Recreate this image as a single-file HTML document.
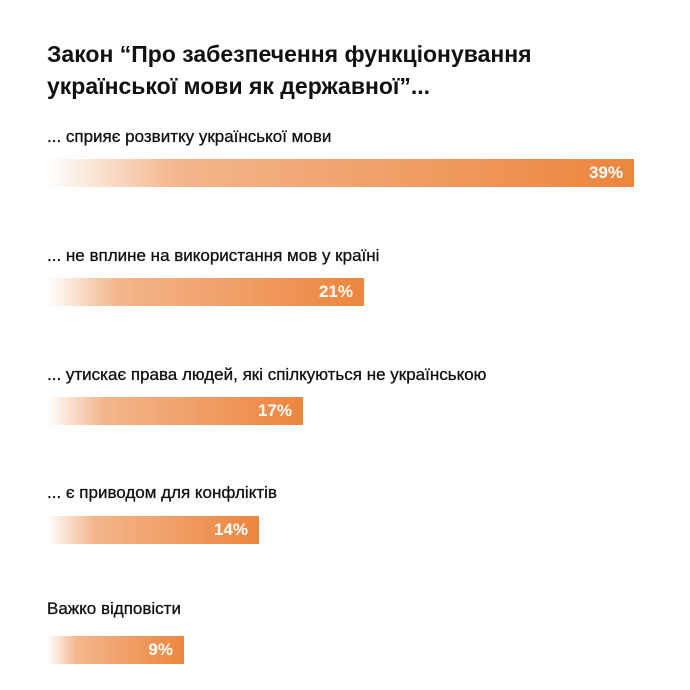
<!DOCTYPE html>
<html><head><meta charset="utf-8"><style>
body{margin:0;width:690px;height:690px;background:#fff;font-family:"Liberation Sans","DejaVu Sans",sans-serif;color:#111;position:relative;overflow:hidden}
.t{position:absolute;left:47px;top:38px;font-size:23px;font-weight:bold;line-height:32px;letter-spacing:0}
.l{position:absolute;left:47px;font-size:17px;line-height:20px;-webkit-text-stroke:0.3px #111}
.b{position:absolute;left:47px;height:28px;background:linear-gradient(90deg,#fff 0%,#f3b68c 22%,#f09e66 60%,#ed853d 100%);color:#fff;font-weight:bold;font-size:17px;line-height:28px;text-align:right;box-sizing:border-box;padding-right:11px}
</style></head><body>
<div class="t">Закон “Про забезпечення функціонування<br>української мови як державної”...</div>
<div class="l" style="top:127px">... сприяє розвитку української мови</div>
<div class="b" style="top:159px;width:587px">39%</div>
<div class="l" style="top:246px">... не вплине на використання мов у країні</div>
<div class="b" style="top:278px;width:317px">21%</div>
<div class="l" style="top:365px">... утискає права людей, які спілкуються не українською</div>
<div class="b" style="top:397px;width:256px">17%</div>
<div class="l" style="top:483px">... є приводом для конфліктів</div>
<div class="b" style="top:516px;width:212px">14%</div>
<div class="l" style="top:599px">Важко відповісти</div>
<div class="b" style="top:636px;width:137px">9%</div>
</body></html>
